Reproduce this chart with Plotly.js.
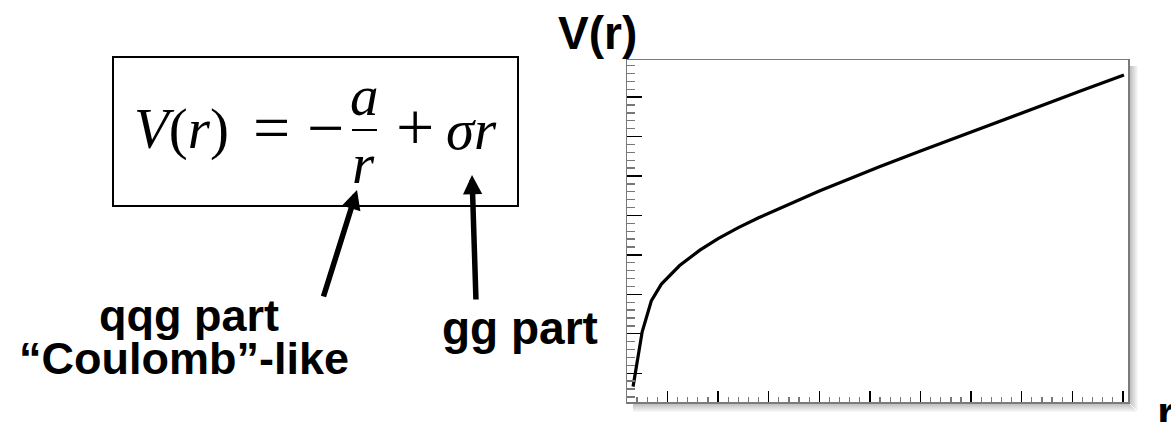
<!DOCTYPE html>
<html><head><meta charset="utf-8">
<script src="https://cdn.plot.ly/plotly-3.0.1.min.js"></script>
<style>html,body{margin:0;padding:0;background:#fff;}#chart{width:1171px;height:422px;}</style>
</head><body><div id="chart"></div>
<script>
// Data (arbitrary units, no tick labels shown)
const rValues = [0.16, 0.25, 0.34, 0.44, 0.62, 0.82, 1.0, 1.2, 1.4, 1.7, 2.0, 2.3, 2.6, 3.0, 3.4, 3.8, 4.2, 4.6, 5.01];
const vValues = [0.66, 2.05, 2.83, 3.26, 3.73, 4.12, 4.41, 4.69, 4.94, 5.29, 5.62, 5.93, 6.24, 6.63, 7.02, 7.41, 7.79, 8.17, 8.56];
const xAxisTitle = "r";
const yAxisTitle = "V(r)";
const labelCoulomb1 = "qqg part";
const labelCoulomb2 = "\u201CCoulomb\u201D-like";
const labelString = "gg part";

const W = 1171, H = 422;
const L = 627, R = 1128, T = 60, B = 402;
const px = x => (x - L) / (R - L);
const py = y => (B - y) / (B - T);

const serif = "Liberation Serif, Times New Roman, serif";
const sans = "Liberation Sans, Arial, sans-serif";

const annotations = [];
function txt(text, x, y, size, family, xanchor, yanchor) {
  annotations.push({text: text, xref: 'paper', yref: 'paper', x: px(x), y: py(y),
    xanchor: xanchor || 'center', yanchor: yanchor || 'middle', showarrow: false, borderpad: 0,
    font: {size: size, family: family, color: '#000'}});
}
// axis titles
txt("<b>" + yAxisTitle + "</b>", 597, 33, 46, sans);
txt("<b>" + xAxisTitle + "</b>", 1156, 413, 46, sans, 'left');
// labels
txt("<b>" + labelCoulomb1 + "</b>", 189, 315, 45, sans);
txt("<b>" + labelCoulomb2 + "</b>", 184, 358, 45, sans);
txt("<b>" + labelString + "</b>", 520, 328, 46, sans);
// formula V(r) = -a/r + sigma r
txt("<i>V</i>(<i>r</i>)", 133, 129, 57, serif, 'left');
txt("=", 271, 127, 66, serif);
txt("\u2212", 325, 127, 66, serif);
txt("<i>a</i>", 364, 95, 57, serif);
txt("<i>r</i>", 363, 163, 57, serif);
txt("+", 415, 127, 68, serif);
txt("<i>\u03C3r</i>", 445, 129, 57, serif, 'left');

// arrows
function arrow(tipX, tipY, tailX, tailY) {
  annotations.push({text: '', xref: 'paper', yref: 'paper', x: px(tipX), y: py(tipY),
    ax: tailX - tipX, ay: tailY - tipY, showarrow: true, arrowhead: 2, arrowsize: 0.7,
    arrowwidth: 5.5, arrowcolor: '#000', standoff: 0, startstandoff: 0});
}
arrow(357, 190, 323, 298);
arrow(472, 175, 476, 301);

const shapes = [];
// formula box
shapes.push({type: 'rect', xref: 'paper', yref: 'paper', x0: px(113), x1: px(518), y0: py(57), y1: py(206),
  line: {color: '#000', width: 2}, fillcolor: 'rgba(0,0,0,0)'});
// fraction bar
shapes.push({type: 'line', xref: 'paper', yref: 'paper', x0: px(352), x1: px(377), y0: py(130), y1: py(130),
  line: {color: '#000', width: 2}});
// drop shadow of the frame (right and bottom)
for (let i = 0; i < 9; i++) {
  const op = 0.42 * (1 - i / 9);
  const c = 'rgba(90,90,90,' + op.toFixed(3) + ')';
  shapes.push({type: 'rect', xref: 'paper', yref: 'paper', x0: px(R + 1 + i), x1: px(R + 2 + i),
    y0: py(T + 6), y1: py(B + 1 + i), line: {width: 0}, fillcolor: c, layer: 'below'});
  shapes.push({type: 'rect', xref: 'paper', yref: 'paper', x0: px(L + 6), x1: px(R + 1 + i),
    y0: py(B + 1 + i), y1: py(B + 2 + i), line: {width: 0}, fillcolor: c, layer: 'below'});
}

const trace = {x: rValues, y: vValues, type: 'scatter', mode: 'lines',
  line: {color: '#000', width: 3.2}, hoverinfo: 'skip'};

const layout = {
  width: W, height: H,
  margin: {l: L, r: W - R, t: T, b: H - B, pad: 0},
  paper_bgcolor: '#fff', plot_bgcolor: '#fff',
  showlegend: false,
  xaxis: {range: [0.1, 5.05], showgrid: false, zeroline: false, showticklabels: false,
    showline: true, linecolor: '#7a7a7a', linewidth: 1.5, mirror: true,
    ticks: 'inside', tick0: 0, dtick: 0.5, ticklen: 11, tickwidth: 1.4, tickcolor: '#000',
    minor: {ticks: 'inside', dtick: 0.1, tick0: 0, ticklen: 5, tickwidth: 1.3, tickcolor: '#777', showgrid: false}},
  yaxis: {range: [0.27, 8.94], showgrid: false, zeroline: false, showticklabels: false,
    showline: true, linecolor: '#7a7a7a', linewidth: 1.5, mirror: true,
    ticks: 'inside', tick0: 0, dtick: 1, ticklen: 15, tickwidth: 1.4, tickcolor: '#000',
    minor: {ticks: 'inside', dtick: 0.2, tick0: 0, ticklen: 8, tickwidth: 1.3, tickcolor: '#777', showgrid: false}},
  annotations: annotations,
  shapes: shapes
};
Plotly.newPlot('chart', [trace], layout, {displayModeBar: false, staticPlot: true});
</script></body></html>
